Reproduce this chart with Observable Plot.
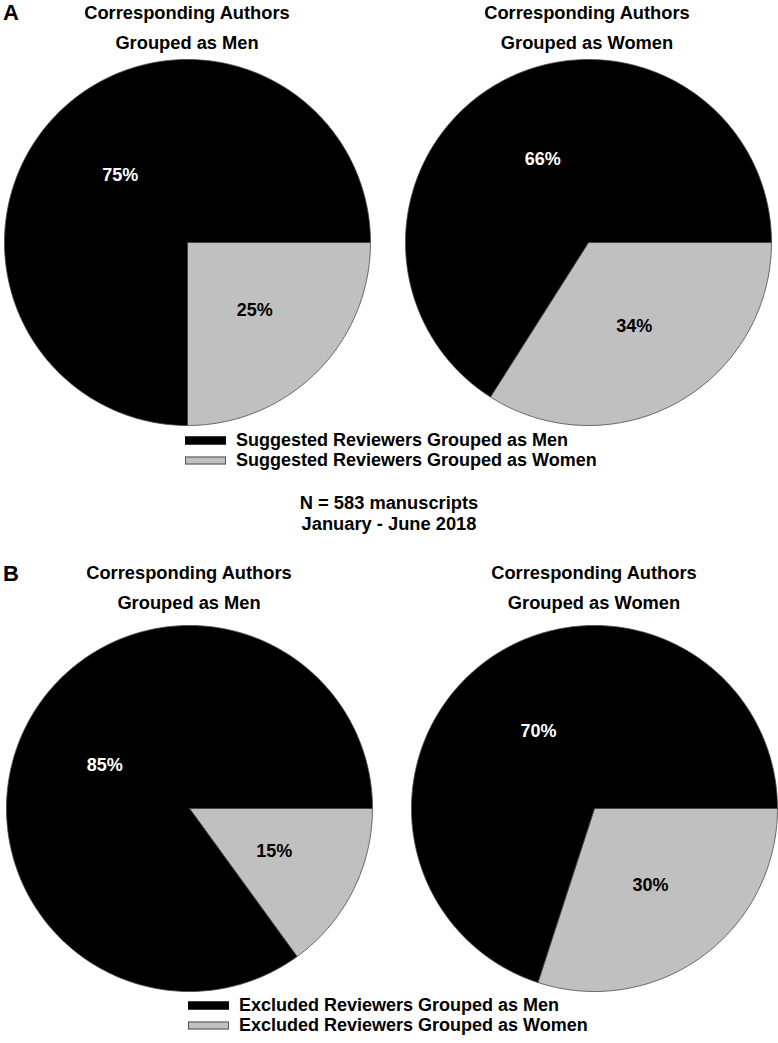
<!DOCTYPE html>
<html>
<head>
<meta charset="utf-8">
<script src="https://cdn.jsdelivr.net/npm/d3@7"></script>
<script src="https://cdn.jsdelivr.net/npm/@observablehq/plot@0.6"></script>
<style>
  html, body { margin: 0; padding: 0; background: #fff; }
  #root { position: relative; width: 778px; height: 1043px; font-family: "Liberation Sans", Arial, sans-serif; font-weight: bold; color: #000; overflow: hidden; }
  .t { position: absolute; white-space: nowrap; transform: translate(-50%, -50%); }
  .panel { position: absolute; font-size: 22px; transform: translateY(-50%); }
  .title { font-size: 18.3px; }
  .leg { position: absolute; font-size: 18px; white-space: nowrap; display: flex; align-items: center; transform: translateY(-50%); }
  .sw { width: 41px; height: 8px; margin-right: 10px; box-sizing: border-box; }
  .pie { position: absolute; }
  .pie svg { display: block; }
</style>
</head>
<body>
<div id="root"></div>
<script>
// ---- data ----
const panels = ["A", "B"];
const groups = ["Corresponding Authors\nGrouped as Men", "Corresponding Authors\nGrouped as Women"];
const slices = ["Men", "Women"];
const panelA_men = [75, 25];     // suggested reviewers, authors grouped as men
const panelA_women = [66, 34];   // suggested reviewers, authors grouped as women
const panelB_men = [85, 15];     // excluded reviewers, authors grouped as men
const panelB_women = [70, 30];   // excluded reviewers, authors grouped as women
const legendA = ["Suggested Reviewers Grouped as Men", "Suggested Reviewers Grouped as Women"];
const legendB = ["Excluded Reviewers Grouped as Men", "Excluded Reviewers Grouped as Women"];
const note = ["N = 583 manuscripts", "January - June 2018"];
const colors = ["#000000", "#c0c0c0"];

const root = document.getElementById("root");
function addText(cls, txt, x, y, extra) {
  const d = document.createElement("div");
  d.className = cls;
  d.textContent = txt;
  d.style.left = x + "px";
  d.style.top = y + "px";
  if (extra) Object.assign(d.style, extra);
  root.appendChild(d);
  return d;
}

// Build a pie with Plot: slices drawn as filled closed lines through x/y scales
function pie(values, r) {
  const total = d3.sum(values);
  // women slice starts at 3 o'clock and runs clockwise; men slice takes the remainder
  const order = [1, 0];
  let start = 0;
  const pts = [];
  const labels = [];
  for (const i of order) {
    const a0 = start, a1 = start + values[i] / total * 2 * Math.PI;
    start = a1;
    const n = Math.max(2, Math.ceil((a1 - a0) / (Math.PI / 180)));
    pts.push({slice: slices[i], x: 0, y: 0});
    for (let k = 0; k <= n; k++) {
      const a = a0 + (a1 - a0) * k / n;
      pts.push({slice: slices[i], x: Math.cos(a), y: -Math.sin(a)});
    }
    pts.push({slice: slices[i], x: 0, y: 0});
    const m = (a0 + a1) / 2;
    labels.push({slice: slices[i], label: values[i] + "%", x: 0.52 * Math.cos(m), y: -0.52 * Math.sin(m)});
  }
  const size = 2 * r + 2;
  return Plot.plot({
    width: size, height: size, margin: 1,
    x: {domain: [-1, 1], axis: null},
    y: {domain: [-1, 1], axis: null},
    color: {domain: slices, range: colors},
    style: {background: "transparent", overflow: "visible"},
    marks: [
      Plot.line(pts, {x: "x", y: "y", z: "slice", fill: "slice", stroke: "#4a4a4a", strokeWidth: 0.8, curve: "linear"}),
      Plot.text(labels, {x: "x", y: "y", text: "label",
        fill: d => d.slice === "Men" ? "white" : "black",
        fontSize: 18, fontWeight: "bold", fontFamily: "Liberation Sans, Arial, sans-serif"})
    ]
  });
}

function addPie(values, cx, cy, r) {
  const d = document.createElement("div");
  d.className = "pie";
  d.style.left = (cx - r - 1) + "px";
  d.style.top = (cy - r - 1) + "px";
  d.appendChild(pie(values, r));
  root.appendChild(d);
}

function addTitle(txt, cx, y0) {
  const [l1, l2] = txt.split("\n");
  addText("t title", l1, cx, y0);
  addText("t title", l2, cx, y0 + 30);
}

function addLegend(items, x, y0) {
  items.forEach((txt, i) => {
    const d = document.createElement("div");
    d.className = "leg";
    d.style.left = x + "px";
    d.style.top = (y0 + i * 20) + "px";
    const sw = document.createElement("span");
    sw.className = "sw";
    sw.style.background = colors[i];
    sw.style.border = "1px solid " + (i === 0 ? "#000" : "#555");
    d.appendChild(sw);
    d.appendChild(document.createTextNode(txt));
    root.appendChild(d);
  });
}

const R = 183;
// Panel A
addText("panel", panels[0], 3, 13);
addTitle(groups[0], 187, 13);
addTitle(groups[1], 587, 13);
addPie(panelA_men, 187, 242, R);
addPie(panelA_women, 588, 242, R);
addLegend(legendA, 185, 440);
addText("t title", note[0], 389, 503);
addText("t title", note[1], 389, 524);

// Panel B
addText("panel", panels[1], 3, 574);
addTitle(groups[0], 189, 573);
addTitle(groups[1], 594, 573);
addPie(panelB_men, 189, 808, R);
addPie(panelB_women, 594, 808, R);
addLegend(legendB, 188, 1005);
</script>
</body>
</html>
